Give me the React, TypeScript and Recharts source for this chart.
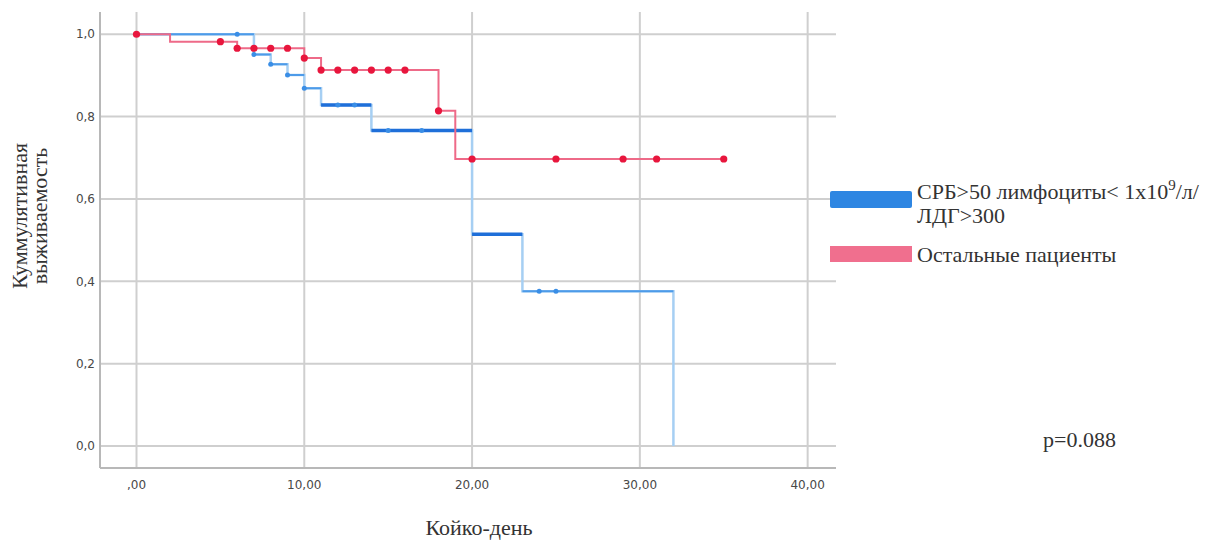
import React from 'react';
import { ComposedChart, Line, XAxis, YAxis, ReferenceLine } from 'recharts';

const W = 1232;
const H = 542;

// axis ticks
const xTicks = [0, 10, 20, 30, 40];
const yTicks = [0, 0.2, 0.4, 0.6, 0.8, 1.0];

// "Остальные пациенты"
const redTimes = [0, 2, 5, 6, 7, 8, 9, 10, 11, 12, 13, 14, 15, 16, 18, 19, 20, 25, 29, 31, 35];
const redSurv = [1.0, 0.982, 0.982, 0.966, 0.966, 0.966, 0.966, 0.942, 0.913, 0.913, 0.913, 0.913, 0.913, 0.913, 0.814, 0.697, 0.697, 0.697, 0.697, 0.697, 0.697];
const redCensored = [1, 0, 1, 1, 1, 1, 1, 1, 1, 1, 1, 1, 1, 1, 1, 0, 1, 1, 1, 1, 1];

// "СРБ>50 лимфоциты< 1x10^9/л/ ЛДГ>300"
const blueTimes = [0, 6, 7, 8, 9, 10, 11, 12, 13, 14, 15, 17, 20, 23, 24, 25, 32];
const blueSurv = [1.0, 1.0, 0.951, 0.927, 0.901, 0.869, 0.828, 0.828, 0.828, 0.766, 0.766, 0.766, 0.514, 0.376, 0.376, 0.376, 0];
const blueCensored = [0, 1, 1, 1, 1, 1, 0, 1, 1, 0, 1, 1, 0, 0, 1, 1, 0];

const redData = redTimes.map((t, i) => ({ t, s: redSurv[i], c: redCensored[i] }));
const blueData = blueTimes.map((t, i) => ({ t, s: blueSurv[i], c: blueCensored[i] }));

// horizontal pieces of a step curve, for the heavier overlay strokes
function segments(times: number[], surv: number[], keep: (t: number) => boolean) {
  const out: { t: number; h: number | null }[] = [];
  for (let i = 0; i < times.length - 1; i++) {
    if (surv[i] > 0 && keep(times[i])) {
      out.push({ t: times[i], h: surv[i] }, { t: times[i + 1], h: surv[i] }, { t: times[i + 1], h: null });
    }
  }
  return out;
}

const blueDark = segments(blueTimes, blueSurv, (t) => t >= 11 && t < 23);
const blueMid = segments(blueTimes, blueSurv, (t) => t < 11 || t >= 23);

const fmtX = (v: number) => (v === 0 ? ',00' : v.toFixed(2).replace('.', ','));
const fmtY = (v: number) => v.toFixed(1).replace('.', ',');

const tickStyle = { fontFamily: 'DejaVu Sans', fontSize: 12, fill: '#484848' };
const serif = 'Liberation Serif, Times New Roman, serif';
const gridColor = '#cfcfcf';

const censorDot = (color: string, r: number) => (props: any) => {
  const { cx, cy, payload, index } = props;
  if (!payload || !payload.c) return <g key={index} />;
  return <circle key={index} cx={cx} cy={cy} r={r} fill={color} stroke="none" />;
};

export default function App() {
  return (
    <div style={{ position: 'absolute', left: 0, top: 0, width: W, height: H, background: '#fff' }}>
      <ComposedChart width={W} height={H} margin={{ top: 12, right: 396, bottom: 44, left: 40 }}>
        <XAxis
          type="number"
          dataKey="t"
          domain={[-2.175, 41.69]}
          ticks={xTicks}
          tickFormatter={fmtX}
          allowDataOverflow
          height={30}
          tickLine={false}
          tickSize={6}
          tickMargin={6}
          axisLine={{ stroke: '#b8b8b8', strokeWidth: 2 }}
          tick={tickStyle}
        />
        <YAxis
          type="number"
          domain={[-0.0534, 1.054]}
          ticks={yTicks}
          tickFormatter={fmtY}
          allowDataOverflow
          width={60}
          tickLine={false}
          tickSize={3}
          tickMargin={2}
          axisLine={{ stroke: '#b8b8b8', strokeWidth: 2 }}
          tick={tickStyle}
        />
        {xTicks.map((v) => (
          <ReferenceLine key={'gx' + v} x={v} stroke={gridColor} strokeWidth={2} />
        ))}
        {yTicks.map((v) => (
          <ReferenceLine key={'gy' + v} y={v} stroke={gridColor} strokeWidth={2} />
        ))}
        <Line
          data={blueData}
          dataKey="s"
          type="stepAfter"
          stroke="#a6cff3"
          strokeWidth={2.5}
          dot={false}
          activeDot={false}
          isAnimationActive={false}
        />
        <Line
          data={blueMid}
          dataKey="h"
          type="linear"
          stroke="#4d9be9"
          strokeWidth={2}
          dot={false}
          activeDot={false}
          connectNulls={false}
          isAnimationActive={false}
        />
        <Line
          data={blueDark}
          dataKey="h"
          type="linear"
          stroke="#1f6fd9"
          strokeWidth={3.5}
          dot={false}
          activeDot={false}
          connectNulls={false}
          isAnimationActive={false}
        />
        <Line
          data={blueData}
          dataKey="s"
          type="stepAfter"
          stroke="none"
          dot={censorDot('#3a8ee6', 2.5)}
          activeDot={false}
          isAnimationActive={false}
        />
        <Line
          data={redData}
          dataKey="s"
          type="stepAfter"
          stroke="#ee6a88"
          strokeWidth={2}
          dot={censorDot('#e8163d', 3.6)}
          activeDot={false}
          isAnimationActive={false}
        />
      </ComposedChart>

      <svg width={W} height={H} style={{ position: 'absolute', left: 0, top: 0, pointerEvents: 'none' }}>
        <text transform="translate(27,216) rotate(-90)" textAnchor="middle" fontFamily={serif} fontSize={22} fill="#333">
          Куммулятивная
        </text>
        <text transform="translate(47,216) rotate(-90)" textAnchor="middle" fontFamily={serif} fontSize={22} fill="#333">
          выживаемость
        </text>
        <text x={479} y={535} textAnchor="middle" fontFamily={serif} fontSize={22} fill="#333">
          Койко-день
        </text>

        <rect x={830} y={191} width={82} height={17} rx={2} fill="#2e86e2" />
        <text x={917} y={199} fontFamily={serif} fontSize={22} fill="#333">
          СРБ&gt;50 лимфоциты&lt; 1x10<tspan dy={-9} fontSize={15}>9</tspan>
          <tspan dy={9}>/л/</tspan>
        </text>
        <text x={917} y={223} fontFamily={serif} fontSize={22} fill="#333">
          ЛДГ&gt;300
        </text>

        <rect x={830} y={246} width={82} height={16} fill="#f06f8e" />
        <text x={917} y={262} fontFamily={serif} fontSize={22} fill="#333">
          Остальные пациенты
        </text>

        <text x={1043} y={447} fontFamily={serif} fontSize={22} fill="#333">
          p=0.088
        </text>
      </svg>
    </div>
  );
}
